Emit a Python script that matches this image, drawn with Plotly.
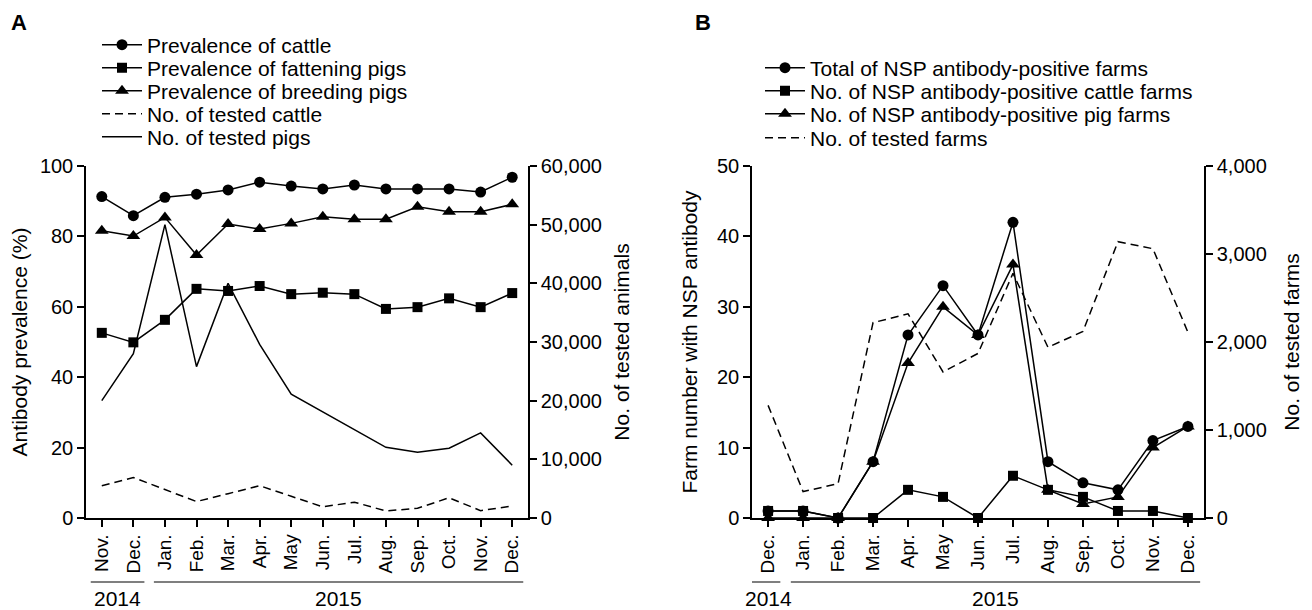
import plotly.graph_objects as go

W, H = 1312, 610
OFF = 8  # page body margin that shifts the figure inside the browser window

# ---------------- Panel A data ----------------
months_a = ["Nov.", "Dec.", "Jan.", "Feb.", "Mar.", "Apr.", "May", "Jun.", "Jul.",
            "Aug.", "Sep.", "Oct.", "Nov.", "Dec."]
prev_cattle = [91.3, 85.9, 91.1, 92.0, 93.2, 95.4, 94.3, 93.5, 94.6, 93.5, 93.5, 93.5, 92.6, 96.8]
prev_fattening = [52.6, 49.9, 56.3, 65.1, 64.5, 65.9, 63.6, 64.0, 63.6, 59.4, 59.9, 62.4, 59.9, 63.9]
prev_breeding = [81.6, 80.1, 85.4, 74.7, 83.5, 82.1, 83.7, 85.6, 84.9, 84.9, 88.4, 87.0, 87.0, 89.1]
tested_cattle = [5500, 6900, 4850, 2800, 4150, 5500, 3700, 1900, 2700, 1200, 1650, 3450, 1250, 2050]
tested_pigs = [20000, 28000, 50000, 25800, 40000, 29600, 21100, 18100, 15100, 12050, 11200, 11900, 14500, 9000]

# ---------------- Panel B data ----------------
months_b = ["Dec.", "Jan.", "Feb.", "Mar.", "Apr.", "May", "Jun.", "Jul.", "Aug.",
            "Sep.", "Oct.", "Nov.", "Dec."]
total_farms = [1, 1, 0, 8, 26, 33, 26, 42, 8, 5, 4, 11, 13]
cattle_farms = [1, 1, 0, 0, 4, 3, 0, 6, 4, 3, 1, 1, 0]
pig_farms = [0, 0, 0, 8, 22, 30, 26, 36, 4, 2, 3, 10, 13]
tested_farms = [1280, 300, 390, 2220, 2320, 1660, 1870, 2780, 1940, 2120, 3140, 3060, 2110]

years_a = [("2014", 0, 1), ("2015", 2, 13)]
years_b = [("2014", 0, 0), ("2015", 1, 12)]

FONT = "Liberation Sans, Arial, sans-serif"
LW = 1.5
DASH = "8px,5px"


def fx(p):
    """page pixel x -> paper fraction"""
    return (p - OFF) / W


def fy(p):
    """page pixel y -> paper fraction"""
    return 1 - (p - OFF) / H


xa = list(range(len(months_a)))
xb = list(range(len(months_b)))

fig = go.Figure()

# Panel A: counts on base axis (y, right), prevalence on overlaying axis (y2, left)
fig.add_trace(go.Scatter(x=xa, y=tested_cattle, mode="lines", name="No. of tested cattle",
                         line=dict(color="black", width=LW, dash=DASH),
                         xaxis="x", yaxis="y", legend="legend4"))
fig.add_trace(go.Scatter(x=xa, y=tested_pigs, mode="lines", name="No. of tested pigs",
                         line=dict(color="black", width=LW),
                         xaxis="x", yaxis="y", legend="legend5"))
fig.add_trace(go.Scatter(x=xa, y=prev_cattle, mode="lines+markers", name="Prevalence of cattle",
                         line=dict(color="black", width=LW),
                         marker=dict(symbol="circle", size=11, color="black"),
                         xaxis="x", yaxis="y2", legend="legend10", cliponaxis=False))
fig.add_trace(go.Scatter(x=xa, y=prev_fattening, mode="lines+markers", name="Prevalence of fattening pigs",
                         line=dict(color="black", width=LW),
                         marker=dict(symbol="square", size=10, color="black"),
                         xaxis="x", yaxis="y2", legend="legend2", cliponaxis=False))
fig.add_trace(go.Scatter(x=xa, y=prev_breeding, mode="lines+markers", name="Prevalence of breeding pigs",
                         line=dict(color="black", width=LW),
                         marker=dict(symbol="triangle-up", size=12, color="black"),
                         xaxis="x", yaxis="y2", legend="legend3", cliponaxis=False))

# Panel B
fig.add_trace(go.Scatter(x=xb, y=tested_farms, mode="lines", name="No. of tested farms",
                         line=dict(color="black", width=LW, dash=DASH),
                         xaxis="x2", yaxis="y3", legend="legend9"))
fig.add_trace(go.Scatter(x=xb, y=total_farms, mode="lines+markers", name="Total of NSP antibody-positive farms",
                         line=dict(color="black", width=LW),
                         marker=dict(symbol="circle", size=11, color="black"),
                         xaxis="x2", yaxis="y4", legend="legend6", cliponaxis=False))
fig.add_trace(go.Scatter(x=xb, y=cattle_farms, mode="lines+markers", name="No. of NSP antibody-positive cattle farms",
                         line=dict(color="black", width=LW),
                         marker=dict(symbol="square", size=10, color="black"),
                         xaxis="x2", yaxis="y4", legend="legend7", cliponaxis=False))
fig.add_trace(go.Scatter(x=xb, y=pig_farms, mode="lines+markers", name="No. of NSP antibody-positive pig farms",
                         line=dict(color="black", width=LW),
                         marker=dict(symbol="triangle-up", size=12, color="black"),
                         xaxis="x2", yaxis="y4", legend="legend8", cliponaxis=False))

ydom = [fy(518), fy(166)]
axis_common = dict(showline=True, linecolor="black", linewidth=LW, ticks="outside",
                   ticklen=7, tickwidth=LW, tickcolor="black", showgrid=False,
                   zeroline=False, automargin=False,
                   tickfont=dict(size=20, color="black", family=FONT))
xcommon = dict(axis_common, tickangle=-90, tickfont=dict(size=19, color="black", family=FONT))
title_font = dict(size=21, color="black", family=FONT)

fig.update_layout(
    width=W, height=H,
    margin=dict(l=0, r=0, t=0, b=0, autoexpand=False),
    paper_bgcolor="white", plot_bgcolor="white",
    font=dict(family=FONT, color="black", size=20),
    xaxis=dict(xcommon, domain=[fx(86), fx(528)], range=[-0.5, 13.5],
               tickvals=xa, ticktext=months_a, anchor="y"),
    yaxis=dict(axis_common, domain=ydom, anchor="x", side="right", range=[0, 60000],
               dtick=10000, tickformat=",d",
               title=dict(text="No. of tested animals", font=title_font, standoff=13)),
    yaxis2=dict(axis_common, overlaying="y", anchor="x", side="left", range=[0, 100], dtick=20,
                title=dict(text="Antibody prevalence (%)", font=title_font, standoff=8)),
    xaxis2=dict(xcommon, domain=[fx(752), fx(1204)], range=[-0.46, 12.46],
                tickvals=xb, ticktext=months_b, anchor="y3"),
    yaxis3=dict(axis_common, domain=ydom, anchor="x2", side="right", range=[0, 4000],
                dtick=1000, tickformat=",d",
                title=dict(text="No. of tested farms", font=title_font, standoff=18)),
    yaxis4=dict(axis_common, overlaying="y3", anchor="x2", side="left", range=[0, 50], dtick=10,
                title=dict(text="Farm number with NSP antibody", font=title_font, standoff=14)),
)

# Legends: one per item so rows can be spaced like the reference
leg_font = dict(size=21, color="black", family=FONT)


def leg(xpx, ypx):
    return dict(x=fx(xpx), y=fy(ypx), xanchor="left", yanchor="middle",
                font=leg_font, bgcolor="rgba(0,0,0,0)", borderwidth=0, itemwidth=40)


rows_a = [45, 68, 91, 114, 137]
rows_b = [68, 91, 114, 138]
fig.update_layout(
    legend10=leg(97, rows_a[0]), legend2=leg(97, rows_a[1]), legend3=leg(97, rows_a[2]),
    legend4=leg(97, rows_a[3]), legend5=leg(97, rows_a[4]),
    legend6=leg(760, rows_b[0]), legend7=leg(760, rows_b[1]), legend8=leg(760, rows_b[2]),
    legend9=leg(760, rows_b[3]),
)

# Year group lines and labels
shapes = []
annotations = []
for xref, years in (("x", years_a), ("x2", years_b)):
    for k, (label, i0, i1) in enumerate(years):
        left_pad = 0.57 if (xref == "x2" and k == 0) else 0.35
        shapes.append(dict(type="line", xref=xref, yref="paper",
                           x0=i0 - left_pad, x1=i1 + 0.35, y0=fy(582), y1=fy(582),
                           line=dict(color="black", width=1.2)))
        annotations.append(dict(text=label, xref=xref, yref="paper", x=(i0 + i1) / 2,
                                y=fy(598), showarrow=False, yanchor="middle",
                                font=dict(size=21, color="black", family=FONT)))

annotations.append(dict(text="<b>A</b>", xref="paper", yref="paper", x=fx(9), y=fy(22),
                        xanchor="left", yanchor="middle", showarrow=False,
                        font=dict(size=22, color="black", family=FONT)))
annotations.append(dict(text="<b>B</b>", xref="paper", yref="paper", x=fx(693), y=fy(22),
                        xanchor="left", yanchor="middle", showarrow=False,
                        font=dict(size=22, color="black", family=FONT)))

fig.update_layout(shapes=shapes, annotations=annotations)

fig.write_html("out.html")
